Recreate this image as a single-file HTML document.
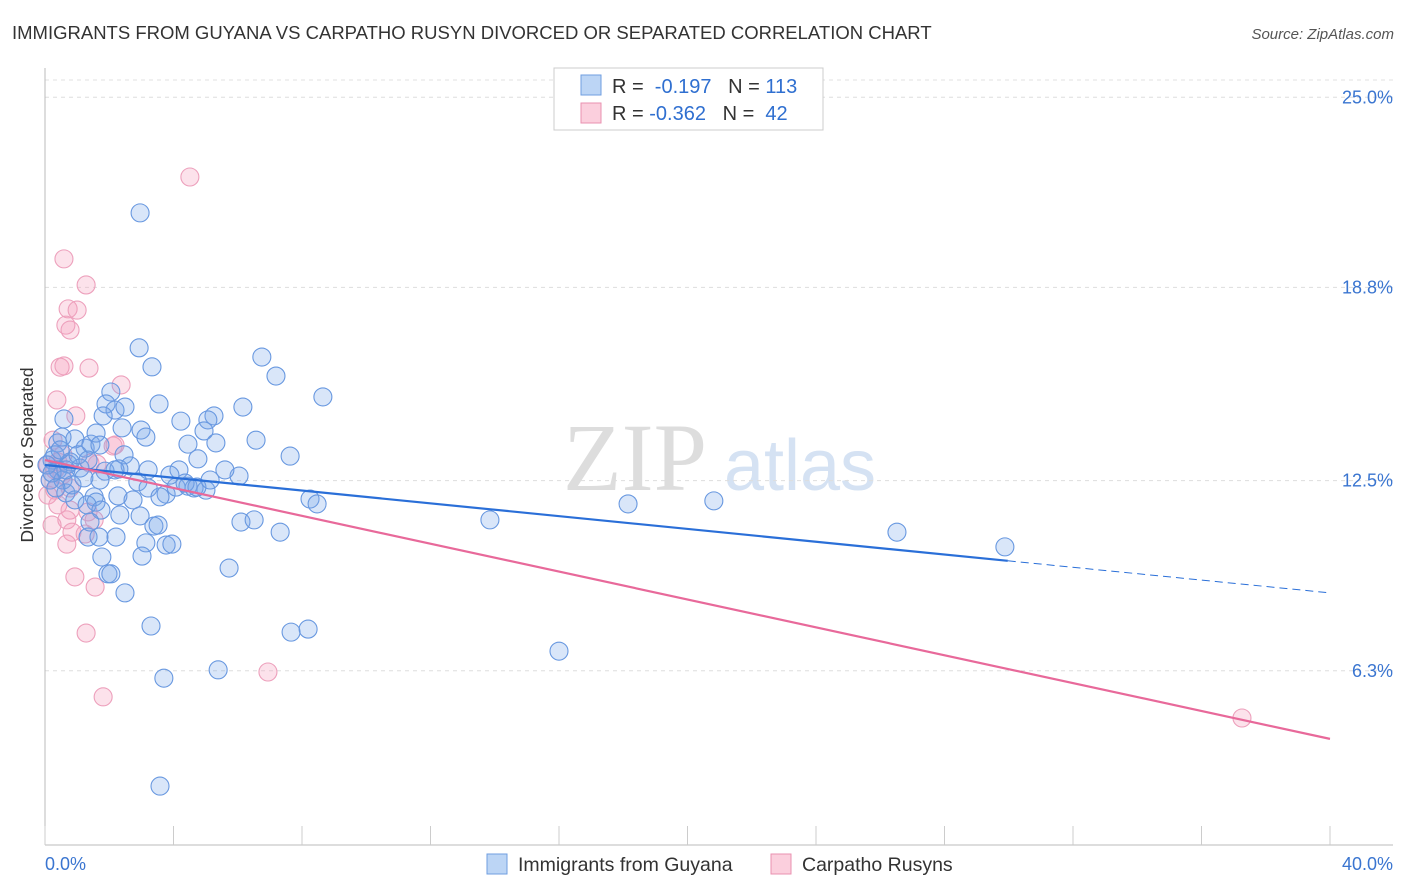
<!DOCTYPE html>
<html><head><meta charset="utf-8"><style>
body{margin:0;background:#fff;font-family:"Liberation Sans",sans-serif;}
svg{display:block}
</style></head><body>
<svg id="chart" width="1406" height="892" xmlns="http://www.w3.org/2000/svg">
<text x="12" y="39" font-size="18.5" fill="#333">IMMIGRANTS FROM GUYANA VS CARPATHO RUSYN DIVORCED OR SEPARATED CORRELATION CHART</text>
<text x="1394" y="39" font-size="15" fill="#555" font-style="italic" text-anchor="end">Source: ZipAtlas.com</text>
<g><text x="635" y="490" font-size="96" fill="#ddd" font-family="Liberation Serif,serif" text-anchor="middle">ZIP</text><text x="800" y="490" font-size="72" fill="#d5e2f3" text-anchor="middle">atlas</text></g>
<g id="grid"></g>
<g id="axes"></g>
<g id="marks"></g>
<text transform="translate(33,455) rotate(-90)" font-size="17.5" fill="#333" text-anchor="middle">Divorced or Separated</text>
<g>
<rect x="554" y="68" width="269" height="62" fill="#fff" stroke="#ccc"/>
<rect x="581" y="75" width="20" height="20" fill="#bcd5f5" stroke="#6f9ee0"/>
<text x="612" y="93" font-size="20" fill="#333">R = <tspan fill="#2f6fd0">&#160;-0.197</tspan>&#160;&#160;&#160;N = <tspan fill="#2f6fd0">113</tspan></text>
<rect x="581" y="103" width="20" height="20" fill="#fbcfdd" stroke="#e991b0"/>
<text x="612" y="120" font-size="20" fill="#333">R = <tspan fill="#2f6fd0">-0.362</tspan>&#160;&#160;&#160;N = <tspan fill="#2f6fd0">&#160;42</tspan></text>
</g>
<g>
<rect x="487" y="854" width="20" height="20" fill="#bcd5f5" stroke="#6f9ee0"/>
<text x="518" y="871" font-size="19.5" fill="#333">Immigrants from Guyana</text>
<rect x="771" y="854" width="20" height="20" fill="#fbcfdd" stroke="#e991b0"/>
<text x="802" y="871" font-size="19.5" fill="#333">Carpatho Rusyns</text>
</g>
</svg>
<script>
const xTicks=[0,4,8,12,16,20,24,28,32,36,40];
const yTicks=[6.3,12.5,18.8,25.0];
const yTickLabels=["6.3%","12.5%","18.8%","25.0%"];
const xAxisLabels=["0.0%","40.0%"];
const blueX=[2.96,2.93,3.33,6.75,7.19,8.65,2.05,1.90,2.18,2.49,3.55,1.81,2.40,4.23,5.26,5.07,6.16,0.59,2.99,3.14,4.95,4.45,5.32,6.57,0.93,1.25,1.43,0.40,1.59,0.53,2.46,2.65,4.17,4.76,6.04,7.63,0.22,0.78,1.09,1.87,2.30,2.89,3.21,3.77,4.08,4.45,4.64,5.01,0.65,0.93,1.53,1.59,2.27,2.74,3.58,1.31,1.74,2.33,2.96,3.39,3.52,6.10,6.51,7.32,8.25,8.47,13.85,18.15,20.82,26.52,29.88,1.34,1.68,2.21,3.14,3.77,3.95,1.77,3.02,5.73,1.96,2.05,2.49,3.30,7.66,8.19,5.39,3.70,16.00,3.58,0.72,0.31,0.40,0.16,0.56,0.84,0.47,1.03,1.34,2.18,1.71,0.06,0.22,0.34,1.21,1.71,1.40,0.65,3.21,3.89,4.36,4.73,5.14,5.60];
const blueY=[21.23,16.83,16.21,16.53,15.91,15.23,15.39,15.00,14.80,14.90,15.00,14.61,14.22,14.44,14.61,14.48,14.90,14.51,14.15,13.92,14.12,13.69,13.73,13.82,13.86,13.56,13.69,13.73,14.05,13.92,13.34,12.98,12.85,13.21,12.65,13.30,13.17,13.11,12.91,12.81,12.88,12.46,12.26,12.06,12.29,12.32,12.26,12.19,12.10,11.87,11.97,11.80,12.00,11.87,11.97,11.71,11.54,11.38,11.35,11.02,11.05,11.15,11.22,10.82,11.90,11.74,11.22,11.74,11.84,10.82,10.34,10.66,10.66,10.66,10.47,10.40,10.43,10.01,10.04,9.65,9.46,9.46,8.84,7.76,7.56,7.66,6.33,6.06,6.94,2.54,13.04,13.34,12.85,12.52,12.52,12.36,13.50,13.34,13.17,12.85,12.52,13.01,12.75,12.26,12.59,13.66,11.15,12.85,12.85,12.68,12.42,12.29,12.52,12.85];
const pinkX=[4.51,0.59,1.28,0.72,1.00,0.65,0.78,1.37,0.47,0.59,2.37,0.37,0.96,0.25,2.12,1.40,0.40,0.09,0.31,0.53,0.16,0.31,0.09,0.78,0.40,0.78,1.34,0.68,1.53,0.22,0.84,1.25,0.68,0.93,1.56,1.28,1.81,6.94,37.26,0.56,1.62,2.18];
const pinkY=[22.40,19.73,18.88,18.10,18.06,17.57,17.41,16.17,16.20,16.24,15.62,15.13,14.61,13.82,13.63,13.07,13.11,13.01,12.85,12.68,12.52,12.19,12.03,12.26,11.71,11.54,11.48,11.22,11.22,11.05,10.82,10.76,10.43,9.36,9.03,7.53,5.45,6.26,4.76,13.34,13.04,13.66];
const blueTrend=[13.01,8.84];
const blueSolidEnd=29.97;
const pinkTrend=[13.17,4.08];

const NS="http://www.w3.org/2000/svg";
const xs=v=>45+v*32.125;
const ys=v=>864-v*30.67;
function mk(tag,attrs,parent){const e=document.createElementNS(NS,tag);for(const k in attrs)e.setAttribute(k,attrs[k]);parent.appendChild(e);return e;}
const grid=document.getElementById('grid'),axes=document.getElementById('axes'),marks=document.getElementById('marks');
let g=mk('line',{x1:45,x2:1393,y1:80,y2:80,stroke:'#e2e2e2','stroke-dasharray':'4,4'},grid);


yTicks.forEach((t,i)=>{
 const l=mk('line',{x1:45,x2:1393,y1:ys(t),y2:ys(t),stroke:'#ddd','stroke-dasharray':'4,4'},grid);
 
 
 const tx=mk('text',{x:1393,y:ys(t)+6,'font-size':18,fill:'#3a75d0','text-anchor':'end'},axes);
 tx.textContent=yTickLabels[i];
 
 
});
let a=mk('line',{x1:45,x2:45,y1:68,y2:845,stroke:'#bbb'},axes);


a=mk('line',{x1:45,x2:1393,y1:845,y2:845,stroke:'#bbb'},axes);


xTicks.forEach(t=>{
 const l=mk('line',{x1:xs(t),x2:xs(t),y1:826,y2:845,stroke:'#ccc'},axes);
 
 
});
let xl=mk('text',{x:45,y:870,'font-size':18,fill:'#3a75d0'},axes);xl.textContent=xAxisLabels[0];


xl=mk('text',{x:1393,y:870,'font-size':18,fill:'#3a75d0','text-anchor':'end'},axes);xl.textContent=xAxisLabels[1];



pinkX.forEach((x,i)=>{
 const c=mk('circle',{cx:xs(x),cy:ys(pinkY[i]),r:9,fill:'rgba(245,160,190,0.3)',stroke:'#eda0bc','stroke-width':1.1},marks);
 
 
});
blueX.forEach((x,i)=>{
 const c=mk('circle',{cx:xs(x),cy:ys(blueY[i]),r:9,fill:'rgba(120,165,235,0.28)',stroke:'#6898e0','stroke-width':1.1},marks);
 
 
});
const bAt=x=>blueTrend[0]+(blueTrend[1]-blueTrend[0])*x/40;
let t=mk('line',{x1:xs(0),y1:ys(blueTrend[0]),x2:xs(blueSolidEnd),y2:ys(bAt(blueSolidEnd)),stroke:'#2a6fd8','stroke-width':2.2},marks);


t=mk('line',{x1:xs(blueSolidEnd),y1:ys(bAt(blueSolidEnd)),x2:xs(40),y2:ys(blueTrend[1]),stroke:'#2a6fd8','stroke-width':1,'stroke-dasharray':'8,5'},marks);


t=mk('line',{x1:xs(0),y1:ys(pinkTrend[0]),x2:xs(40),y2:ys(pinkTrend[1]),stroke:'#e8699a','stroke-width':2.2},marks);


</script>
</body></html>
